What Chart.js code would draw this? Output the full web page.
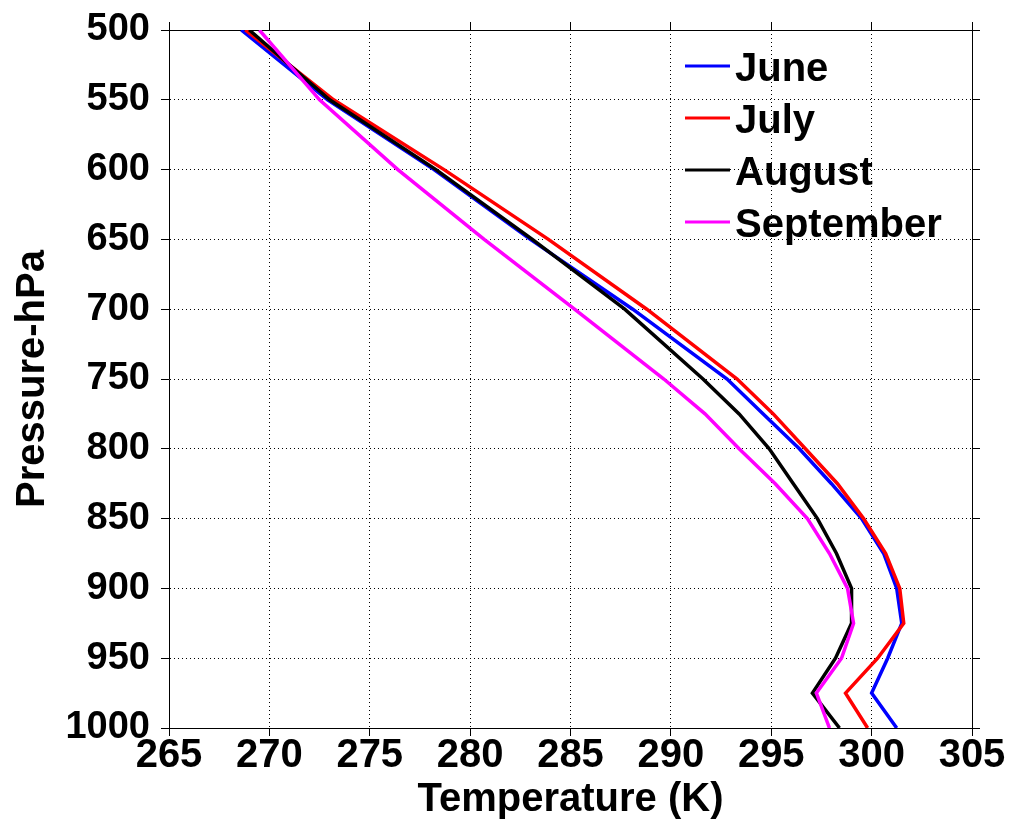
<!DOCTYPE html>
<html>
<head>
<meta charset="utf-8">
<script src="https://cdn.jsdelivr.net/npm/chart.js@4/dist/chart.umd.min.js"></script>
<style>
  html, body { margin: 0; padding: 0; background: #fff; }
  canvas { display: block; }
</style>
</head>
<body>
<canvas id="chart" width="1011" height="824"></canvas>
<script>
// pressure levels (hPa)
const levels = [500, 550, 600, 650, 700, 750, 775, 800, 825, 850, 875, 900, 925, 950, 975, 1000];

// temperature (K) per month
const june      = [268.6, 272.9, 278.2, 283.0, 288.1, 292.8, 294.6, 296.4, 298.0, 299.5, 300.6, 301.25, 301.5, 300.8, 300.0, 301.25];
const july      = [268.8, 273.2, 278.7, 283.9, 288.8, 293.3, 295.1, 296.7, 298.3, 299.6, 300.7, 301.4, 301.6, 300.3, 298.7, 299.8];
const august    = [269.0, 273.0, 278.3, 283.1, 287.7, 291.6, 293.4, 294.9, 296.1, 297.3, 298.25, 299.0, 299.0, 298.2, 297.05, 298.4];
const september = [269.5, 272.5, 276.4, 280.7, 285.2, 289.65, 291.7, 293.4, 295.2, 296.8, 297.9, 298.8, 299.1, 298.5, 297.25, 297.9];

const monthNames = ['June', 'July', 'August', 'September'];
const colours = ['#0000ff', '#ff0000', '#000000', '#ff00ff'];

const xTicks = [265, 270, 275, 280, 285, 290, 295, 300, 305];
const yTicks = [500, 550, 600, 650, 700, 750, 800, 850, 900, 950, 1000];

const FONT = "'Liberation Sans', Arial, sans-serif";
Chart.defaults.font.family = FONT;
Chart.defaults.color = '#000';

function toPoints(temps) {
    return temps.map((t, i) => ({ x: t, y: levels[i] }));
}

const series = [june, july, august, september];
const datasets = series.map((s, i) => ({
    label: monthNames[i],
    data: toPoints(s),
    borderColor: colours[i],
    backgroundColor: colours[i],
    borderWidth: 3.5,
    pointRadius: 0,
    showLine: true,
    tension: 0,
    order: series.length - i   // later months drawn on top
}));

// legend inside the plot area, top right
const insideLegend = {
    id: 'insideLegend',
    afterDraw(chart) {
        const ctx = chart.ctx;
        ctx.save();
        ctx.font = 'bold 40px ' + FONT;
        ctx.textBaseline = 'alphabetic';
        ctx.textAlign = 'left';
        chart.data.datasets.forEach((ds, i) => {
            const y = 66 + i * 52;
            ctx.strokeStyle = ds.borderColor;
            ctx.lineWidth = 3;
            ctx.beginPath();
            ctx.moveTo(685, y);
            ctx.lineTo(730, y);
            ctx.stroke();
            ctx.fillStyle = '#000';
            ctx.fillText(ds.label, 735, y + 15);
        });
        ctx.restore();
    }
};

const gridOpts = {
    color: '#000',
    lineWidth: 1,
    tickBorderDash: [],
    tickLength: 8,
    tickColor: '#000',
    tickWidth: 1
};
// in v4 the grid line dash comes from border.dash
const dottedBorder = { display: true, color: '#000', width: 1, dash: [1, 3] };

const mirrorGrid = {
    drawOnChartArea: false,
    tickLength: 8,
    tickColor: '#000',
    tickWidth: 1
};
const plainBorder = { display: true, color: '#000', width: 1 };

new Chart(document.getElementById('chart'), {
    type: 'scatter',
    data: { datasets },
    plugins: [insideLegend],
    options: {
        responsive: false,
        animation: false,
        layout: { padding: 0 },
        plugins: {
            legend: { display: false },
            tooltip: { enabled: false }
        },
        scales: {
            x: {
                type: 'linear',
                position: 'bottom',
                min: 265,
                max: 305,
                afterBuildTicks: axis => { axis.ticks = xTicks.map(v => ({ value: v })); },
                afterFit: axis => { axis.height = 96; },
                grid: gridOpts,
                border: dottedBorder,
                ticks: {
                    font: { size: 40, weight: 'bold', lineHeight: 1 },
                    padding: 0,
                    maxRotation: 0,
                    callback: v => String(v)
                },
                title: {
                    display: true,
                    text: 'Temperature (K)',
                    font: { size: 40, weight: 'bold' },
                    padding: { top: 0, bottom: 0 }
                }
            },
            x2: {
                type: 'linear',
                position: 'top',
                min: 265,
                max: 305,
                afterBuildTicks: axis => { axis.ticks = xTicks.map(v => ({ value: v })); },
                afterFit: axis => { axis.height = 25; },
                grid: mirrorGrid,
                border: plainBorder,
                ticks: { display: false }
            },
            y: {
                type: 'linear',
                position: 'left',
                reverse: true,
                min: 500,
                max: 1000,
                afterBuildTicks: axis => { axis.ticks = yTicks.map(v => ({ value: v })); },
                afterFit: axis => { axis.width = 169; },
                grid: gridOpts,
                border: dottedBorder,
                ticks: {
                    font: { size: 38, weight: 'bold', lineHeight: 1 },
                    padding: 11,
                    callback: v => String(v)
                },
                title: {
                    display: true,
                    text: 'Pressure-hPa',
                    font: { size: 40, weight: 'bold' },
                    padding: { top: 9, bottom: 0 }
                }
            },
            y2: {
                type: 'linear',
                position: 'right',
                reverse: true,
                min: 500,
                max: 1000,
                afterBuildTicks: axis => { axis.ticks = yTicks.map(v => ({ value: v })); },
                afterFit: axis => { axis.width = 39; },
                grid: mirrorGrid,
                border: plainBorder,
                ticks: { display: false }
            }
        }
    }
});
</script>
</body>
</html>
